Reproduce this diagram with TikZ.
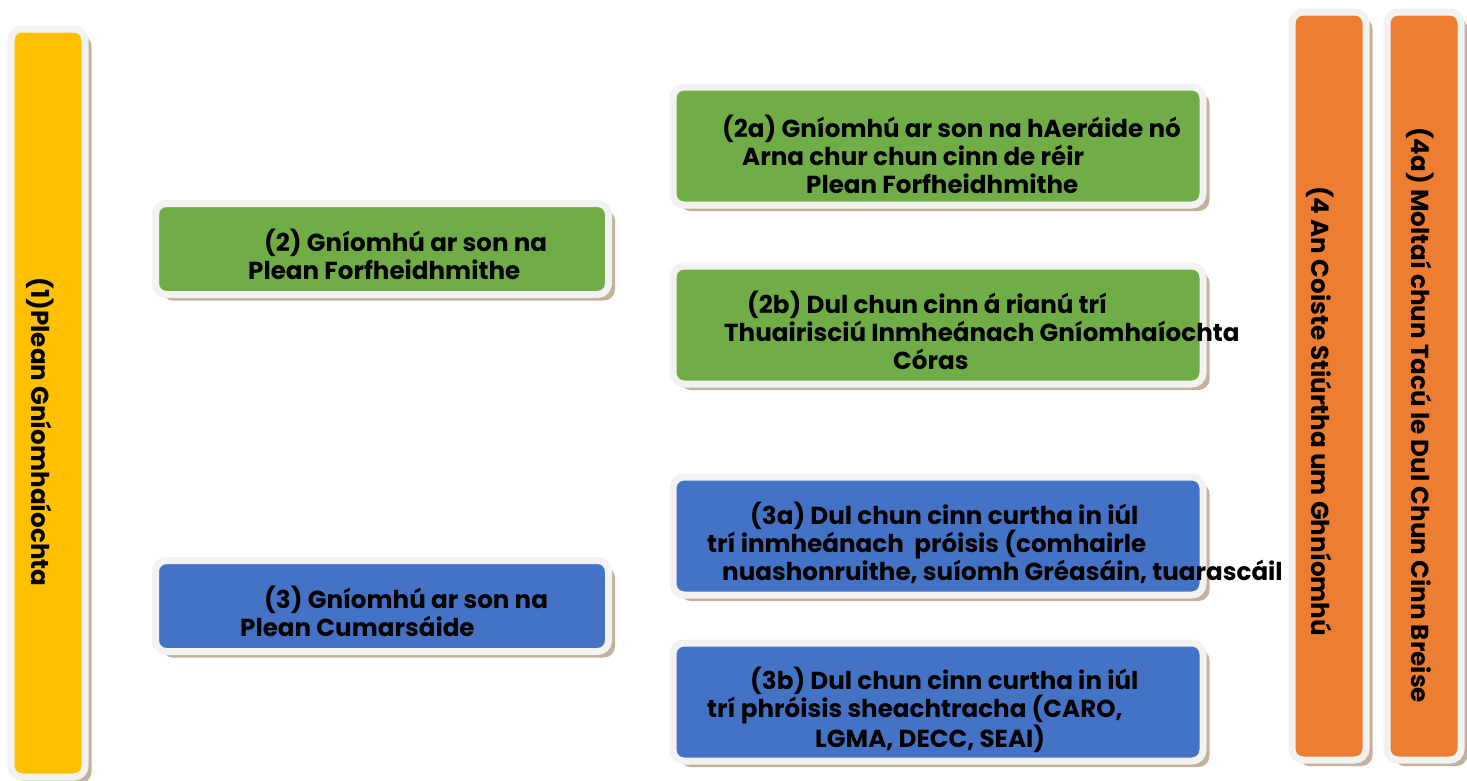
\documentclass[tikz,border=0pt]{standalone}
\usepackage{fontspec}
\setmainfont{Poppins}
\usepackage{xcolor}
\definecolor{planYellow}{HTML}{FFC000}
\definecolor{actGreen}{HTML}{70AD47}
\definecolor{commsBlue}{HTML}{4472C4}
\definecolor{steerOrange}{HTML}{ED7D31}
\definecolor{frameGray}{HTML}{F2F2F2}
\definecolor{shadowTan}{HTML}{B9A58A}
\usetikzlibrary{shadows,positioning}
\tikzset{
    % Base style for the framed tiles
    tile/.style={
        rectangle,
        draw=frameGray,
        line width=7pt,
        rounded corners=11pt,
        inner sep=0pt,
        drop shadow={shadow xshift=6.5pt, shadow yshift=-6pt, fill=shadowTan, opacity=0.85},
    },
    % Upright strips at the edges
    strip/.style={tile, minimum width=74pt, minimum height=748pt},
    % Wide action tiles
    wide tile/.style={tile, minimum width=453pt, minimum height=91pt},
    % Sub tiles on the right
    sub tile/.style={tile, minimum width=530pt, minimum height=118pt},
    % Text on the tiles (anchored at the last line)
    tile text/.style={
        font=\bfseries\fontsize{24.6}{28}\selectfont,
        align=left,
        anchor=base west,
        inner sep=0pt,
        text=black,
    },
    % Text running down a strip
    strip text/.style={
        font=\bfseries\fontsize{24.6}{28}\selectfont,
        rotate=-90,
        inner sep=0pt,
        text=black,
    },
}

\begin{document}
\begin{tikzpicture}[x=1pt, y=-1pt]
    \useasboundingbox (0,0) rectangle (1467,780);

    % tiles
    \node (plan) [strip, fill=planYellow] at (48,403) {};
    \node (act) [wide tile, fill=actGreen] at (382,249) {};
    \node (comms) [wide tile, fill=commsBlue] at (382,606) {};
    \node (act_a) [sub tile, fill=actGreen] at (938,146) {};
    \node (act_b) [sub tile, fill=actGreen] at (938,325) {};
    \node (comms_a) [sub tile, fill=commsBlue] at (938,536) {};
    \node (comms_b) [sub tile, fill=commsBlue] at (938,702) {};
    \node (steer) [strip, fill=steerOrange] at (1329,386) {};
    \node (support) [strip, fill=steerOrange] at (1424,386) {};

    % labels
    \node (plan_txt) [strip text] at (40,432) {(1)Plean Gníomhaíochta};
    \node (act_txt) [tile text] at (248,279)
        {\hspace*{16pt}(2) Gníomhú ar son na\\Plean Forfheidhmithe};
    \node (comms_txt) [tile text] at (240,636)
        {\hspace*{24pt}(3) Gníomhú ar son na\\Plean Cumarsáide};
    \node (act_a_txt) [tile text] at (722,193)
        {(2a) Gníomhú ar son na hAeráide nó\\\hspace*{20pt}Arna chur chun cinn de réir\\\hspace*{84pt}Plean Forfheidhmithe};
    \node (act_b_txt) [tile text] at (724,369)
        {\hspace*{23pt}(2b) Dul chun cinn á rianú trí\\Thuairisciú Inmheánach Gníomhaíochta\\\hspace*{169pt}Córas};
    \node (comms_a_txt) [tile text] at (707,580)
        {\hspace*{43pt}(3a) Dul chun cinn curtha in iúl\\trí inmheánach\ \ próisis (comhairle\\\hspace*{15pt}nuashonruithe, suíomh Gréasáin, tuarascáil};
    \node (comms_b_txt) [tile text] at (707,747)
        {\hspace*{43pt}(3b) Dul chun cinn curtha in iúl\\trí phróisis sheachtracha (CARO,\\\hspace*{108pt}LGMA, DECC, SEAI)};
    \node (steer_txt) [strip text] at (1320,411) {(4 An Coiste Stiúrtha um Ghníomhú};
    \node (support_txt) [strip text] at (1420,415) {(4a) Moltaí chun Tacú le Dul Chun Cinn Breise};
\end{tikzpicture}
\end{document}
